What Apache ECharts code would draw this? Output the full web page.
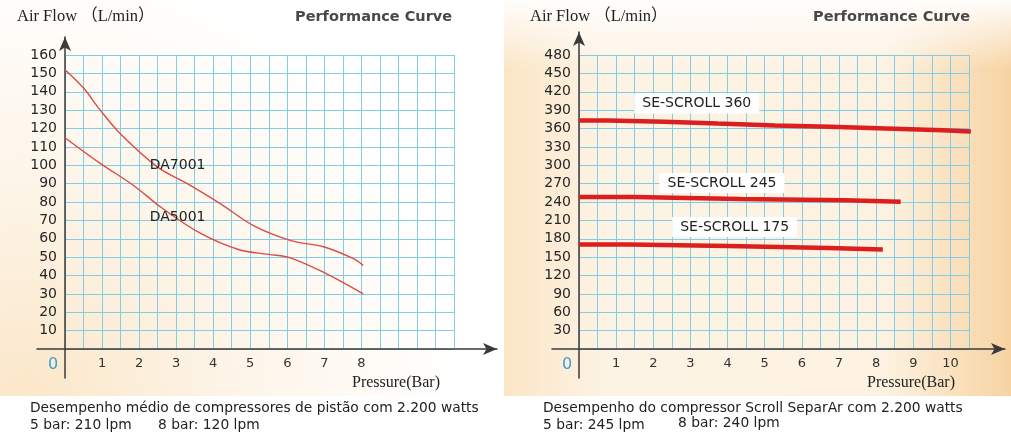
<!DOCTYPE html>
<html>
<head>
<meta charset="utf-8">
<title>Performance Curve</title>
<script src="https://cdn.jsdelivr.net/npm/echarts@6/dist/echarts.min.js"></script>
<style>
  html, body { margin: 0; padding: 0; background: #fff; }
  #main { width: 1011px; height: 441px; }
</style>
</head>
<body>
<div id="main"></div>
<script>
// piston compressors (left panel)
var da7001Pressure = [0, 0.5, 0.95, 1.5, 2.5, 3.3, 4.2, 5.1, 6.1, 7.0, 7.8, 8.05];
var da7001Flow = [152, 142, 130, 117, 99, 90, 79, 67, 59, 55.5, 49, 45.5];
var da5001Pressure = [0, 0.95, 1.85, 2.6, 3.65, 4.7, 5.5, 6.1, 7.05, 8.05];
var da5001Flow = [115, 101, 89, 77, 63, 54, 51.5, 49.5, 41, 30];

// scroll compressors (right panel), step lines
var scroll360Pressure = [0, 0.77, 2.3, 3.74, 5.28, 6.77, 8.26, 9.8, 10.55];
var scroll360Flow = [373, 371, 368, 365, 363, 360, 357, 355, 355];
var scroll245Pressure = [0, 1.49, 4.33, 7.17, 8.66];
var scroll245Flow = [248, 245, 243, 240.5, 240.5];
var scroll175Pressure = [0, 1.35, 4.0, 6.72, 8.18];
var scroll175Flow = [170.5, 168, 165, 162.5, 162.5];

var leftXLabels = [1, 2, 3, 4, 5, 6, 7, 8];
var rightXLabels = [1, 2, 3, 4, 5, 6, 7, 8, 9, 10];

function pairs(xs, ys) {
  return xs.map(function (x, i) { return [x, ys[i]]; });
}

var gridColor = '#82cde6';
var axisColor = '#3a3a3a';
var wide = '"DejaVu Sans", Verdana, sans-serif';
var serif = '"Liberation Serif", "Times New Roman", "Noto Sans CJK SC", serif';

function valueX(grid, labels) {
  return {
    type: 'value', gridIndex: grid, min: 0, max: 10.5, interval: 0.5,
    axisLine: { show: false }, axisTick: { show: false },
    splitLine: { show: true, lineStyle: { color: gridColor, width: 1 } },
    axisLabel: {
      margin: 8, color: '#333', fontSize: 13, fontFamily: wide,
      formatter: function (v) {
        if (v === 0) return '{z|0}';
        return labels.indexOf(v) >= 0 ? String(v) : '';
      },
      rich: { z: { color: '#3b9fd8', fontSize: 16, fontFamily: wide, padding: [0, 24, 0, 0] } }
    }
  };
}
function valueY(grid, max, step) {
  return {
    type: 'value', gridIndex: grid, min: 0, max: max, interval: step,
    axisLine: { show: false }, axisTick: { show: false },
    splitLine: { show: true, lineStyle: { color: gridColor, width: 1 } },
    axisLabel: {
      margin: 8, color: '#262626', fontSize: 14, fontFamily: wide,
      formatter: function (v) { return v === 0 ? '' : String(v); }
    }
  };
}
// bare axes only used for the arrowed axis lines
function arrowAxis(grid) {
  return {
    type: 'value', gridIndex: grid, min: 0, max: 1,
    axisLine: { show: true, symbol: ['none', 'arrow'], symbolSize: [9, 14], lineStyle: { color: axisColor, width: 1.5 } },
    axisTick: { show: false }, axisLabel: { show: false }, splitLine: { show: false }
  };
}
function hidden(grid) {
  return { type: 'value', gridIndex: grid, show: false, min: 0, max: 1 };
}

function nameMark(items, boxed) {
  return {
    symbol: 'circle', symbolSize: 0, silent: true,
    label: {
      show: true, position: 'inside', formatter: '{b}',
      color: '#222', fontSize: 14, fontFamily: wide,
      backgroundColor: boxed ? '#ffffff' : 'transparent',
      padding: boxed ? [3, 8] : 0
    },
    data: items
  };
}

function titleText(text, left, top, size, family, color, weight) {
  return { text: text, left: left, top: top, padding: 0,
    textStyle: { fontSize: size, fontFamily: family, fontWeight: weight || 'normal', color: color || '#222' } };
}

var chart = echarts.init(document.getElementById('main'));
chart.setOption({
  backgroundColor: '#ffffff',
  animation: false,
  graphic: [
    { type: 'rect', z: -10, shape: { x: 0, y: 0, width: 502, height: 396 },
      style: { fill: new echarts.graphic.RadialGradient(0.05, 1, 1.1, [
        { offset: 0, color: '#fbe7c9' }, { offset: 0.5, color: '#fdf5e9' }, { offset: 1, color: '#ffffff' }]) } },
    { type: 'rect', z: -10, shape: { x: 504, y: 0, width: 507, height: 396 },
      style: { fill: new echarts.graphic.LinearGradient(0, 0, 1, 0, [
        { offset: 0, color: '#fbe5c6' }, { offset: 0.2, color: '#fdf3e4' }, { offset: 0.75, color: '#fdf2e1' }, { offset: 1, color: '#f7d3a2' }]) } },
    { type: 'rect', z: -9, shape: { x: 504, y: 0, width: 507, height: 70 },
      style: { fill: new echarts.graphic.LinearGradient(0, 0, 0, 1, [
        { offset: 0, color: 'rgba(255,255,255,0.95)' }, { offset: 1, color: 'rgba(255,255,255,0)' }]) } }
  ],
  title: [
    titleText('Air Flow （L/min）', 17, 8, 16.5, serif),
    titleText('Performance Curve', 295, 10, 14.5, wide, '#484848', 'bold'),
    titleText('Pressure(Bar)', 352, 375, 16, serif),
    titleText('Desempenho médio de compressores de pistão com 2.200 watts', 30, 401, 13.8, wide),
    titleText('5 bar: 210 lpm', 30, 418, 13.8, wide),
    titleText('8 bar: 120 lpm', 158, 418, 13.8, wide),
    titleText('Air Flow （L/min）', 530, 8, 16.5, serif),
    titleText('Performance Curve', 813, 10, 14.5, wide, '#484848', 'bold'),
    titleText('Pressure(Bar)', 867, 375, 16, serif),
    titleText('Desempenho do compressor Scroll SeparAr com 2.200 watts', 543, 401, 13.8, wide),
    titleText('5 bar: 245 lpm', 543, 418, 13.8, wide),
    titleText('8 bar: 240 lpm', 678, 416, 13.8, wide)
  ],
  grid: [
    { left: 65, top: 55, width: 389, height: 294 },
    { left: 579, top: 55, width: 390, height: 294 },
    { left: 37, top: 348, width: 460, height: 1 },
    { left: 65, top: 37, width: 1, height: 341 },
    { left: 552, top: 348, width: 453, height: 1 },
    { left: 579, top: 32, width: 1, height: 346 }
  ],
  xAxis: [
    valueX(0, leftXLabels),
    valueX(1, rightXLabels),
    arrowAxis(2), hidden(3), arrowAxis(4), hidden(5)
  ],
  yAxis: [
    valueY(0, 160, 10),
    valueY(1, 480, 30),
    hidden(2), arrowAxis(3), hidden(4), arrowAxis(5)
  ],
  series: [
    { name: 'DA7001', type: 'line', xAxisIndex: 0, yAxisIndex: 0, smooth: 0.35, showSymbol: false,
      lineStyle: { color: '#dc4b45', width: 1.4 }, data: pairs(da7001Pressure, da7001Flow),
      markPoint: nameMark([{ name: 'DA7001', coord: [3.04, 100] }, { name: 'DA5001', coord: [3.04, 71.5] }], false) },
    { name: 'DA5001', type: 'line', xAxisIndex: 0, yAxisIndex: 0, smooth: 0.35, showSymbol: false,
      lineStyle: { color: '#dc4b45', width: 1.4 }, data: pairs(da5001Pressure, da5001Flow) },
    { name: 'SE-SCROLL 360', type: 'line', xAxisIndex: 1, yAxisIndex: 1, step: 'end', showSymbol: false,
      lineStyle: { color: '#dc1e1e', width: 4.5 }, data: pairs(scroll360Pressure, scroll360Flow),
      markPoint: nameMark([{ name: 'SE-SCROLL 360', coord: [3.17, 401] }], true) },
    { name: 'SE-SCROLL 245', type: 'line', xAxisIndex: 1, yAxisIndex: 1, step: 'end', showSymbol: false,
      lineStyle: { color: '#dc1e1e', width: 4.5 }, data: pairs(scroll245Pressure, scroll245Flow),
      markPoint: nameMark([{ name: 'SE-SCROLL 245', coord: [3.85, 271] }], true) },
    { name: 'SE-SCROLL 175', type: 'line', xAxisIndex: 1, yAxisIndex: 1, step: 'end', showSymbol: false,
      lineStyle: { color: '#dc1e1e', width: 4.5 }, data: pairs(scroll175Pressure, scroll175Flow),
      markPoint: nameMark([{ name: 'SE-SCROLL 175', coord: [4.19, 199] }], true) }
  ]
});
</script>
</body>
</html>
